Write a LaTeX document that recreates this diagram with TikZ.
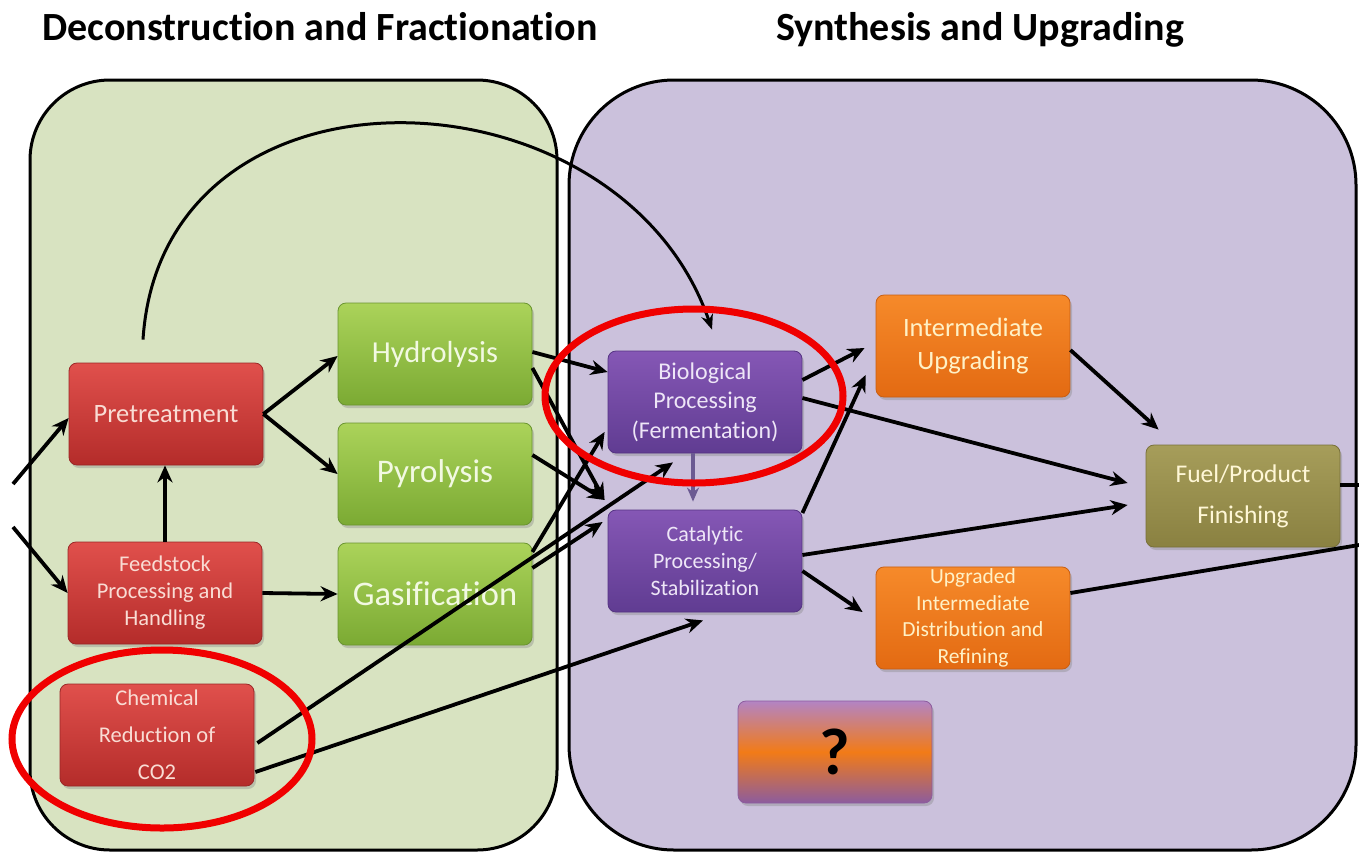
\documentclass[tikz,border=0pt]{standalone}
\usepackage{fontspec}
\setmainfont{Carlito}[Ligatures={NoCommon}]
\usetikzlibrary{calc,arrows.meta,shadows}
\definecolor{gpanel}{HTML}{D8E3C1}
\definecolor{ppanel}{HTML}{CBC1DC}
\definecolor{redT}{HTML}{E0504C}
\definecolor{redB}{HTML}{B42C2A}
\definecolor{redD}{HTML}{9A2626}
\definecolor{redTxt}{HTML}{F9DCD4}
\definecolor{grnT}{HTML}{ABD35A}
\definecolor{grnB}{HTML}{7BAA33}
\definecolor{grnD}{HTML}{6A9430}
\definecolor{grnTxt}{HTML}{F2F9E2}
\definecolor{purT}{HTML}{8557B5}
\definecolor{purB}{HTML}{603C92}
\definecolor{purD}{HTML}{553383}
\definecolor{purTxt}{HTML}{EEE6F7}
\definecolor{orT}{HTML}{F68A2A}
\definecolor{orB}{HTML}{E36A12}
\definecolor{orD}{HTML}{C85E12}
\definecolor{orTxt}{HTML}{FFF1C6}
\definecolor{olT}{HTML}{A69D5A}
\definecolor{olB}{HTML}{8A8141}
\definecolor{olD}{HTML}{78703A}
\definecolor{olTxt}{HTML}{FFF7D6}
\definecolor{qT}{HTML}{B384C4}
\definecolor{qM}{HTML}{F27B17}
\definecolor{qB}{HTML}{8C5C9E}
\definecolor{vline}{HTML}{6B5A92}
\definecolor{ringred}{HTML}{F00000}
\begin{document}
\begin{tikzpicture}[x=1pt,y=-1pt,
  panel/.style={draw=black, line width=3pt},
  ttl/.style={font=\fontsize{40}{48}\selectfont\bfseries, anchor=base, inner sep=0pt},
  box/.style={minimum width=194pt, minimum height=102pt, rounded corners=8pt,
    inner sep=2pt, align=center, line width=0.8pt,
    drop shadow={opacity=0.35, shadow xshift=2pt, shadow yshift=-3pt}},
  redbox/.style={box, top color=redT, bottom color=redB, draw=redD, text=redTxt},
  grnbox/.style={box, top color=grnT, bottom color=grnB, draw=grnD, text=grnTxt},
  purbox/.style={box, top color=purT, bottom color=purB, draw=purD, text=purTxt},
  orbox/.style={box, top color=orT, bottom color=orB, draw=orD, text=orTxt},
  olbox/.style={box, top color=olT, bottom color=olB, draw=olD, text=olTxt},
  qbox/.style={box, top color=qT, bottom color=qB, middle color=qM, draw=qB, text=black},
  arr/.style={line width=3.8pt, draw=black, -{Stealth[length=17pt,width=15pt]}},
  plain/.style={line width=3.8pt, draw=black},
  ring/.style={draw=ringred, line width=7pt}
]
\useasboundingbox (0,0) rectangle (1359,852);
\fill[white] (0,0) rectangle (1359,852);

% panels
\draw[panel, fill=gpanel, rounded corners=80pt] (30,80) rectangle (557,850);
\draw[panel, fill=ppanel, rounded corners=105pt] (569,80) rectangle (1356,850);

% titles
\node[ttl] (t1) at (320,40) {Deconstruction and Fractionation};
\node[ttl] (t2) at (980,40) {Synthesis and Upgrading};

% boxes
\node[redbox, font=\fontsize{26.5}{30}\selectfont] (pre) at (166,414) {Pretreatment};
\node[redbox, font=\fontsize{22.5}{27}\selectfont] (feed) at (165,593) {Feedstock\\Processing and\\Handling};
\node[redbox, font=\fontsize{22.5}{37}\selectfont] (chem) at (157,735) {Chemical\\Reduction of\\CO2};
\node[grnbox, font=\fontsize{30.5}{36}\selectfont] (hyd) at (435,354) {Hydrolysis};
\node[grnbox, font=\fontsize{33}{38}\selectfont] (pyr) at (435,474) {Pyrolysis};
\node[grnbox, font=\fontsize{34.5}{40}\selectfont] (gas) at (435,594) {Gasification};
\node[purbox, font=\fontsize{24}{29.5}\selectfont] (bio) at (705,402) {Biological\\Processing\\(Fermentation)};
\node[purbox, font=\fontsize{22}{27}\selectfont] (cat) at (705,561) {Catalytic\\Processing/\\Stabilization};
\node[orbox, font=\fontsize{26.5}{33}\selectfont] (iu) at (973,346) {Intermediate\\Upgrading};
\node[orbox, font=\fontsize{21.5}{26.5}\selectfont] (uid) at (973,618) {Upgraded\\Intermediate\\Distribution and\\Refining};
\node[olbox, font=\fontsize{25.5}{41}\selectfont] (fuel) at (1243,496) {Fuel/Product\\Finishing};
\node[qbox, font=\fontsize{66}{70}\selectfont\bfseries] (q) at (835,752) {?};

% free ends
\coordinate (inA) at (13,484);
\coordinate (inB) at (13,527);
\coordinate (outA) at (1359,485);
\coordinate (outB) at (1359,545);

% connectors
\draw[arr] (inA) -- ($(pre.west)+(0,4)$);
\draw[arr] (inB) -- (feed.west);
\draw[arr] (feed.north) -- (feed.north |- pre.south);
\draw[arr] (pre.east) -- ($(hyd.west)+(0,2)$);
\draw[arr] (pre.east) -- (pyr.west);
\draw[arr] (feed.east) -- (gas.west);
\draw[arr, line width=3pt, -{Stealth[length=15pt,width=12pt]}] ($(pre.north)+(-23,-23)$) .. controls (162,45) and (620,62) .. ($(bio.north)+(7,-21)$);
\draw[arr] ($(hyd.east)+(0,-2)$) -- ($(bio.west)+(0,-30)$);
\draw[arr] ($(hyd.east)+(0,14)$) -- ($(cat.west)+(-3,-61)$);
\draw[arr] ($(pyr.east)+(0,-19)$) -- ($(cat.west)+(-3,-61)$);
\draw[arr] ($(gas.east)+(0,-42)$) -- ($(bio.west)+(-3,30)$);
\draw[arr] ($(gas.east)+(0,-26)$) -- ($(cat.west)+(-5,-39)$);
\draw[arr] ($(chem.east)+(3,8)$) -- ($(bio.south)+(-32,9)$);
\draw[arr] ($(chem.east)+(1,37)$) -- ($(cat.south)+(-2,8)$);
\draw[arr, draw=vline, line width=3.4pt, -{Stealth[length=14pt,width=12pt]}] ($(bio.south)+(-12,0)$) -- ($(cat.north)+(-12,-8)$);
\draw[arr] ($(bio.east)+(0,-22)$) -- ($(iu.west)+(-11,2)$);
\draw[arr] ($(cat.east)+(0,-48)$) -- ($(iu.west)+(-10,29)$);
\draw[arr] ($(bio.east)+(0,-4)$) -- ($(fuel.west)+(-18,-13)$);
\draw[arr] ($(cat.east)+(0,-6)$) -- ($(fuel.west)+(-18,9)$);
\draw[arr] ($(cat.east)+(0,10)$) -- ($(uid.west)+(-13,-6)$);
\draw[arr] ($(iu.east)+(0,4)$) -- ($(fuel.north west)+(13,-15)$);
\draw[plain] ($(uid.east)+(0,-25)$) -- (outB);
\draw[plain] ($(fuel.east)+(0,-11)$) -- (outA);

% highlight rings
\draw[ring] (694,396) ellipse [x radius=149, y radius=87];
\draw[ring] (162,739) ellipse [x radius=150, y radius=89];
\end{tikzpicture}
\end{document}
